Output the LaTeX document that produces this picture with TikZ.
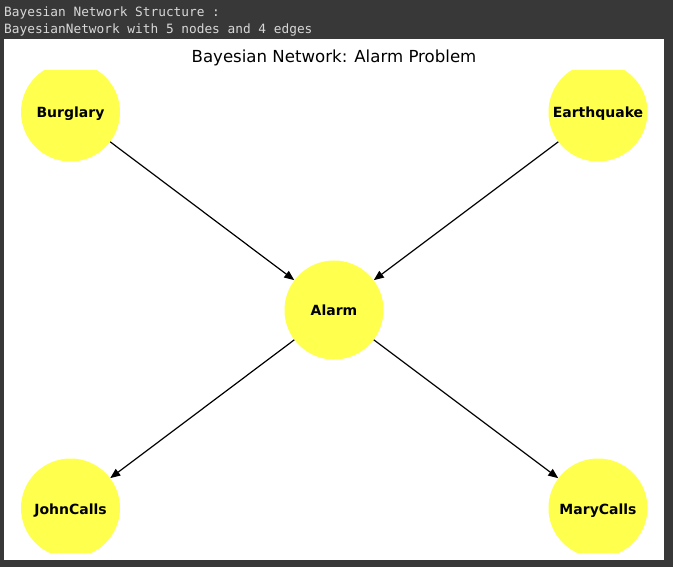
\documentclass[tikz,border=0pt]{standalone}
\usepackage{fontspec}
\setmainfont{DejaVu Sans}
\newfontfamily\monof{DejaVu Sans Mono}
\usetikzlibrary{arrows.meta}
\definecolor{darkbg}{HTML}{383838}
\definecolor{consoletext}{HTML}{D8D8D8}
\definecolor{nodeyellow}{HTML}{FFFF4D}
\tikzset{
  bnnode/.style={circle, fill=nodeyellow, draw=none, minimum size=99pt, inner sep=0pt},
  bnlabel/.style={inner sep=0pt, anchor=base, font=\fontsize{14pt}{16pt}\selectfont\bfseries, text=black},
  bnedge/.style={-{Triangle[length=10pt,width=8pt]}, line width=1.2pt, black},
  console/.style={anchor=base west, inner sep=0pt, text=consoletext, font=\monof\fontsize{12.8pt}{15pt}\selectfont}
}
\begin{document}
\begin{tikzpicture}[x=1pt,y=-1pt]
\fill[darkbg] (0,0) rectangle (673,567);
\useasboundingbox (0,0) rectangle (673,567);
\fill[white] (4,39) rectangle (664,560);
\node[console] (l1) at (4,17) {Bayesian Network Structure :};
\node[console] (l2) at (4,34) {BayesianNetwork with 5 nodes and 4 edges};
\node[anchor=base, inner sep=0pt, font=\fontsize{16.6pt}{19pt}\selectfont] (title) at (334,63) {Bayesian Network: Alarm Problem};
\begin{scope}
\clip (4,71) rectangle (664,552);
\node[bnnode] (B) at (70.5,112) {};
\node[bnnode] (E) at (598,112) {};
\node[bnnode] (A) at (334,310) {};
\node[bnnode] (J) at (70.5,508) {};
\node[bnnode] (M) at (598,508) {};
\end{scope}
\node[bnlabel] (Bt) at ([yshift=-6pt]B.center) {Burglary};
\node[bnlabel] (Et) at ([yshift=-6pt]E.center) {Earthquake};
\node[bnlabel] (At) at ([yshift=-6pt]A.center) {Alarm};
\node[bnlabel] (Jt) at ([yshift=-6pt]J.center) {JohnCalls};
\node[bnlabel] (Mt) at ([yshift=-6pt]M.center) {MaryCalls};
\draw[bnedge] (B) -- (A);
\draw[bnedge] (E) -- (A);
\draw[bnedge] (A) -- (J);
\draw[bnedge] (A) -- (M);
\end{tikzpicture}
\end{document}
